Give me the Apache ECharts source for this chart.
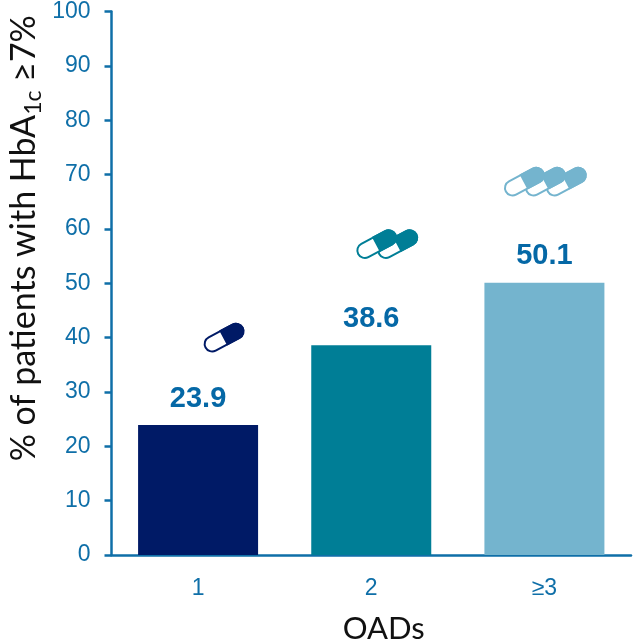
<!DOCTYPE html>
<html>
<head>
<meta charset="utf-8">
<style>html,body{margin:0;padding:0;background:#fff}#chart{width:633px;height:641px}</style>
<script src="https://cdn.jsdelivr.net/npm/echarts@6/dist/echarts.min.js"></script>
</head>
<body>
<div id="chart"></div>
<script>
// OAD count groups and the share of patients above the HbA1c target
const categories = ['1', '2', '≥3'];
const values = [23.9, 38.6, 50.1];
const barColors = ['#001A66', '#007E96', '#74B4CE'];
const yTicks = [0, 10, 20, 30, 40, 50, 60, 70, 80, 90, 100];

// Capsule pictograms: axis height of each row and how many capsules it holds
const pillLevels = [40.0, 57.2, 68.7];
const pillCounts = [1, 2, 3];
const pillShift = [26, 16, 1];

const AXIS = '#0F6FA8';
const chart = echarts.init(document.getElementById('chart'), null, { renderer: 'canvas' });

// One capsule, white cap on the left and solid cap on the right, tilted upwards
function capsule(cx, cy, color, z) {
  const len = 44, w = 17, r = w / 2;
  return {
    type: 'group', x: cx, y: cy, rotation: 28 * Math.PI / 180,
    children: [
      { type: 'rect', z2: z,
        shape: { x: -len / 2 + 1, y: -r + 1, width: len - 2, height: w - 2, r: r - 1 },
        style: { fill: '#fff', stroke: color, lineWidth: 2 } },
      { type: 'path', z2: z + 1,
        shape: { pathData: `M-1 ${-r} H${len / 2 - r} A${r} ${r} 0 0 1 ${len / 2 - r} ${r} H-1 Z`, layout: 'cover',
                 x: -1, y: -r, width: len / 2 + 1, height: w },
        style: { fill: color } }
    ]
  };
}

chart.setOption({
  animation: false,
  grid: { left: 111.5, right: 2, top: 11.5, bottom: 86, outerBoundsMode: 'none', containLabel: false },
  xAxis: {
    type: 'category', data: categories,
    name: 'OADs', nameLocation: 'middle', nameGap: 58,
    nameTextStyle: { fontFamily: 'Lato', fontSize: 31, color: '#111', padding: [0, 0, 0, 25] },
    axisLine: { lineStyle: { color: AXIS, width: 2.5 } },
    axisTick: { show: false },
    axisLabel: { fontFamily: 'Liberation Sans', fontSize: 23, color: AXIS, margin: 22 }
  },
  yAxis: {
    type: 'value', min: yTicks[0], max: yTicks[yTicks.length - 1], interval: yTicks[1] - yTicks[0],
    name: '{m|% of patients with HbA}{s|1c}{m| ≥7%}', nameLocation: 'middle', nameGap: 66, nameMoveOverlap: false,
    nameTextStyle: {
      padding: [0, 0, 0, 90],
      rich: {
        m: { fontFamily: 'Lato', fontSize: 34, color: '#111' },
        s: { fontFamily: 'Lato', fontSize: 23, color: '#111', verticalAlign: 'bottom', padding: [20, 0, 0, 0] }
      }
    },
    splitLine: { show: false },
    axisLine: { show: true, lineStyle: { color: AXIS, width: 2.5 } },
    axisTick: { show: true, length: 7, lineStyle: { color: AXIS, width: 2.5 } },
    axisLabel: { fontFamily: 'Liberation Sans', fontSize: 23, color: AXIS, margin: 21 }
  },
  series: [
    {
      type: 'bar', barWidth: 120,
      data: values.map((v, i) => ({ value: v, itemStyle: { color: barColors[i] } })),
      label: {
        show: true, position: 'top', distance: 12,
        fontFamily: 'Liberation Sans', fontWeight: 'bold', fontSize: 29, color: '#0568A6',
        formatter: p => p.value.toFixed(1)
      }
    },
    {
      type: 'custom', coordinateSystem: 'cartesian2d', silent: true, z: 5,
      encode: { x: 0, y: 1 },
      data: categories.map((c, i) => [c, pillLevels[i], pillCounts[i]]),
      renderItem(params, api) {
        const i = params.dataIndex;
        const p = api.coord([i, api.value(1)]);
        const n = api.value(2);
        const step = 21;
        const children = [];
        // Earlier capsules sit over the ones to their right
        for (let k = 0; k < n; k++) {
          children.push(capsule(p[0] + pillShift[i] + (k - (n - 1) / 2) * step, p[1], barColors[i], 20 - k * 2));
        }
        return { type: 'group', children };
      }
    }
  ]
});
</script>
</body>
</html>
